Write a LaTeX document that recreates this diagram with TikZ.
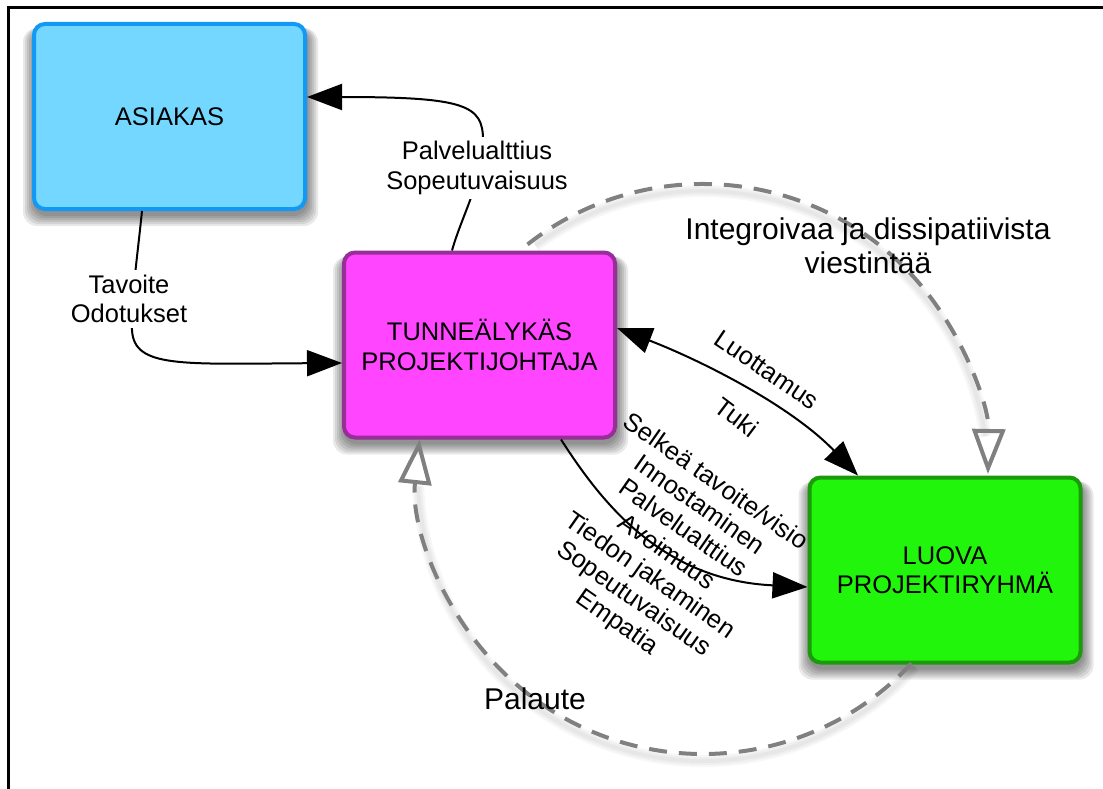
\documentclass[tikz,border=0pt]{standalone}
\usepackage{fontspec}
\setmainfont{Liberation Sans}
\usetikzlibrary{arrows.meta,calc}
\definecolor{askfill}{HTML}{74D7FF}
\definecolor{askdraw}{HTML}{1299F5}
\definecolor{tunfill}{HTML}{FF45FF}
\definecolor{tundraw}{HTML}{982E98}
\definecolor{luofill}{HTML}{22F50C}
\definecolor{luodraw}{HTML}{1B9B0B}
\definecolor{dashgrey}{HTML}{808080}
\pgfdeclarelayer{bg}
\pgfsetlayers{bg,main}
\begin{document}
\begin{tikzpicture}[x=1pt,y=-1pt,
  lbl/.style={font=\fontsize{25.5}{29.5}\selectfont, align=center, inner sep=0pt},
  biglbl/.style={font=\fontsize{30}{34}\selectfont, align=center, inner sep=0pt},
  boxnode/.style={rounded corners=11pt, line width=4pt, minimum width=271pt,
    minimum height=185pt, inner sep=0pt, lbl},
  softshade/.style={fill=black, opacity=0.085, rounded corners=14pt},
  conn/.style={line width=2pt, draw=black},
  arr/.style={conn, -{Triangle[length=35pt,width=26pt]}},
  darr/.style={conn, {Triangle[length=35pt,width=26pt]}-{Triangle[length=35pt,width=26pt]}},
  dasharc/.style={draw=dashgrey, line width=4pt, dash pattern=on 18pt off 12pt,
    -{Triangle[open,length=45pt,width=33pt]}},
  arcshadow/.style={draw=black, line width=10pt, opacity=0.03}
]
\useasboundingbox (0,0) rectangle (1103,789);
\begin{pgfonlayer}{bg}
\fill[white] (0,0) rectangle (1103,789);
\end{pgfonlayer}
\draw[line width=2.5pt, line join=miter] (8.5,789) -- (8.5,7.5) -- (1103,7.5);

% boxes
\node[boxnode, draw=askdraw, fill=askfill] (asiakas) at (169.5,116.5) {ASIAKAS};
\node[boxnode, draw=tundraw, fill=tunfill] (tunne) at (479.5,345) {TUNNEÄLYKÄS\\PROJEKTIJOHTAJA};
\node[boxnode, draw=luodraw, fill=luofill] (luova) at (945,570) {LUOVA\\PROJEKTIRYHMÄ};

% soft shadows of the boxes
\begin{pgfonlayer}{bg}
\foreach \b in {asiakas,tunne,luova}{
  \foreach \s in {0,2,4,6,8,10}{
    \fill[softshade] ($(\b.south west)+(-\s+1,5+\s)$) rectangle ($(\b.north east)+(\s+1,6)$);
  }
}
\end{pgfonlayer}

% feedback circle
\coordinate (cyc) at (703,469);
\coordinate (cycs) at (703,476);
\begin{pgfonlayer}{bg}
  \foreach \w in {12,8,4}{
    \draw[arcshadow, line width=\w pt] ($(cycs)+(126:285pt)$) arc[start angle=126, end angle=8, radius=285pt];
    \draw[arcshadow, line width=\w pt] ($(cycs)+(-42:285pt)$) arc[start angle=-42, end angle=-178, radius=285pt];
  }
\end{pgfonlayer}
\draw[dasharc] ($(cyc)+(128:285pt)$) arc[start angle=128, end angle=-1, radius=285pt];
\draw[dasharc] ($(cyc)+(-43:285pt)$) arc[start angle=-43, end angle=-186, radius=285pt];

% connectors
\draw[arr] ([xshift=-27.5pt]asiakas.south) .. controls (137,260) and (131,300) .. (132,330)
  .. controls (134,368) and (180,364) .. ([yshift=-18pt]tunne.west);
\draw[arr] ([xshift=-27.5pt]tunne.north) .. controls (462,215) and (483,180) .. (483,140)
  .. controls (483,105) and (465,97) .. ([yshift=19.5pt]asiakas.east);
\draw[darr] ([yshift=17pt]tunne.east) .. controls (700,360) and (790,405) .. ([xshift=-87pt]luova.north);
\draw[arr] ([xshift=81.5pt]tunne.south) .. controls (600,500) and (660,580) .. ([yshift=-17pt]luova.west);

% labels
\node[lbl, fill=white, inner sep=5pt] (tavlbl) at (129,299) {Tavoite\\Odotukset};
\node[lbl, fill=white, inner sep=4pt] (pallbl) at (477,168) {Palvelualttius\\Sopeutuvaisuus};
\node[lbl, rotate=-34] (luottlbl) at (767,370) {Luottamus};
\node[lbl, rotate=-37] (tukilbl) at (737,417) {Tuki};
\node[lbl, rotate=-35, font=\fontsize{25.5}{28.5}\selectfont] (listlbl) at (666,553)
  {Selkeä tavoite/visio\\Innostaminen\\Palvelualttius\\Avoimuus\\Tiedon jakaminen\\Sopeutuvaisuus\\Empatia};
\node[biglbl] (intlbl) at (868,246) {Integroivaa ja dissipatiivista\\viestintää};
\node[biglbl] (palautelbl) at (535,699) {Palaute};
\end{tikzpicture}
\end{document}
